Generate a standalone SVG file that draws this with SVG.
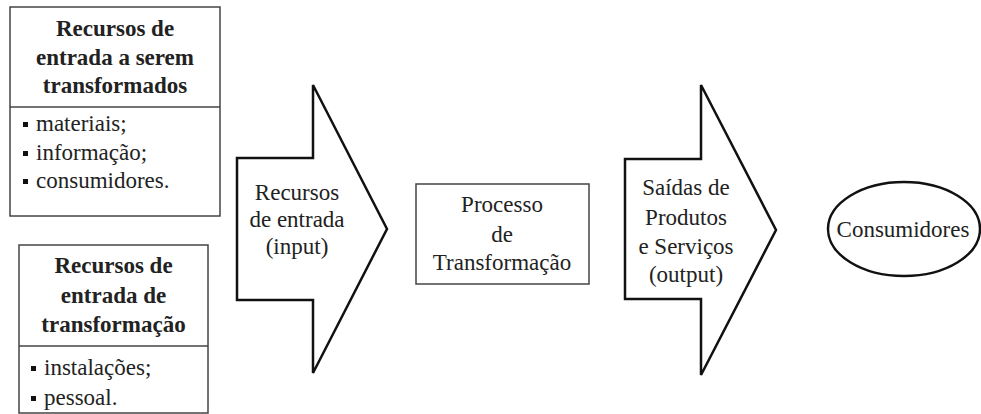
<svg xmlns="http://www.w3.org/2000/svg" width="981" height="414" viewBox="0 0 981 414">
<style>
text{font-family:"Liberation Serif","Times New Roman",serif;font-size:23px;fill:#222}
.b{font-weight:bold}
.c{text-anchor:middle}
.box{fill:#fff;stroke:#444;stroke-width:1.5}
.arr{fill:#fff;stroke:#111;stroke-width:2.5;stroke-linejoin:miter}
.bul{fill:#111}
</style>
<rect width="981" height="414" fill="#fff"/>
<g id="recursos-transformados">
<rect class="box" x="10" y="7" width="210" height="209"/>
<line x1="10" y1="107" x2="220" y2="107" stroke="#444" stroke-width="1.5"/>
<text class="b c" x="115" y="36">Recursos de</text>
<text class="b c" x="115" y="65">entrada a serem</text>
<text class="b c" x="115" y="93">transformados</text>
<rect class="bul" x="23" y="122" width="5" height="5"/>
<text x="36" y="131">materiais;</text>
<rect class="bul" x="23" y="151" width="5" height="5"/>
<text x="36" y="160">informação;</text>
<rect class="bul" x="23" y="179" width="5" height="5"/>
<text x="36" y="188">consumidores.</text>
</g>
<g id="recursos-transformacao">
<rect class="box" x="19" y="245" width="189" height="168"/>
<line x1="19" y1="346" x2="208" y2="346" stroke="#444" stroke-width="1.5"/>
<text class="b c" x="113.5" y="273">Recursos de</text>
<text class="b c" x="113.5" y="303">entrada de</text>
<text class="b c" x="113.5" y="332">transformação</text>
<rect class="bul" x="31" y="366" width="5" height="5"/>
<text x="44" y="375">instalações;</text>
<rect class="bul" x="31" y="396" width="5" height="5"/>
<text x="44" y="405">pessoal.</text>
</g>
<g id="input-arrow">
<polygon class="arr" points="237,158 313,158 313,85 387,229 313,373 313,300 237,300"/>
<text class="c" x="297" y="200">Recursos</text>
<text class="c" x="297" y="227">de entrada</text>
<text class="c" x="297" y="254">(input)</text>
</g>
<g id="processo">
<rect class="box" x="416" y="184" width="173" height="100"/>
<text class="c" x="502" y="212">Processo</text>
<text class="c" x="502" y="242">de</text>
<text class="c" x="502" y="270">Transformação</text>
</g>
<g id="output-arrow">
<polygon class="arr" points="625,159 701,159 701,85 776,230 701,375 701,299 625,299"/>
<text class="c" x="686" y="195">Saídas de</text>
<text class="c" x="686" y="225">Produtos</text>
<text class="c" x="686" y="254">e Serviços</text>
<text class="c" x="686" y="282">(output)</text>
</g>
<g id="consumidores">
<ellipse cx="904" cy="229" rx="76" ry="47" fill="#fff" stroke="#111" stroke-width="2.5"/>
<text class="c" x="903" y="237">Consumidores</text>
</g>
<g id="connectors"></g>
</svg>
